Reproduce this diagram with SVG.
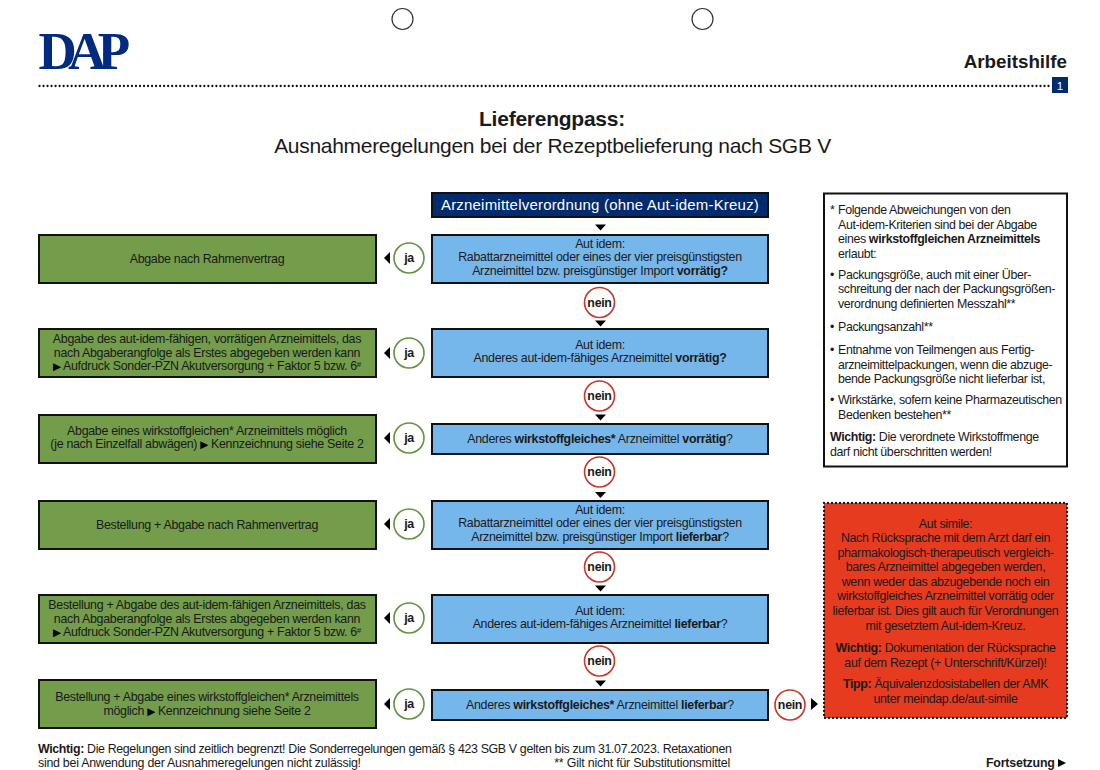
<svg xmlns="http://www.w3.org/2000/svg" width="1100" height="770" viewBox="0 0 1100 770">
<style>
text{font-family:"Liberation Sans",Arial,sans-serif;font-size:12.400px;fill:#1a1a1a;letter-spacing:-.29px}
.m{text-anchor:middle}
.b{font-weight:700}
.n{letter-spacing:-.37px}
.s{letter-spacing:-.33px}
.f{letter-spacing:-.35px}
.tri{font-family:"DejaVu Sans",sans-serif;font-size:10.500px;fill:#000;letter-spacing:-.6px;baseline-shift:.5px}
.box{stroke:#111;stroke-width:2}
.g{fill:#739c4b}
.bl{fill:#76b7eb}
.ja{fill:#fff;stroke:#5f9440;stroke-width:1.6}
.ne{fill:#fff;stroke:#c8372c;stroke-width:1.6}
.t{fill:#000}
.lab{font-weight:700;text-anchor:middle;font-size:12.400px;letter-spacing:-.3px}
</style>
<rect width="1100" height="770" fill="#fff"/>
<g id="punch"><circle cx="402.500" cy="19" r="10.500" fill="#fff" stroke="#333" stroke-width="1.200"/><circle cx="702.500" cy="19" r="10.500" fill="#fff" stroke="#333" stroke-width="1.200"/></g>
<g id="logo"><text x="38.500" y="68.500" style="font-family:'Liberation Serif',serif;font-weight:700;font-size:53px;letter-spacing:-8.700px;fill:#002b7f">DAP</text></g>
<text x="1067" y="68" text-anchor="end" style="font-size:18.800px;font-weight:700;letter-spacing:0">Arbeitshilfe</text>
<line x1="39.500" y1="86" x2="1052" y2="86" stroke="#111" stroke-width="2.300" stroke-linecap="round" stroke-dasharray="0 4.020"/>
<rect x="1052" y="77" width="16" height="16" fill="#002b6e"/><text x="1060" y="90" class="m" style="fill:#fff;font-size:11.500px;letter-spacing:0">1</text>
<text x="552" y="126" class="m b" style="font-size:21px;letter-spacing:-.25px">Lieferengpass:</text>
<text x="552.500" y="152.500" class="m" style="font-size:21px;letter-spacing:-.3px">Ausnahmeregelungen bei der Rezeptbelieferung nach SGB V</text>

<g id="connectors" class="t">
<path d="M595 224.500h11l-5.500 6z"/><path d="M595 320.500h11l-5.500 6z"/><path d="M595 414.500h11l-5.500 6z"/><path d="M595 492h11l-5.500 6z"/><path d="M595 585.500h11l-5.500 6z"/><path d="M595 680.500h11l-5.500 6z"/>
<path d="M390 252v12l-6-6z"/><path d="M390 347v12l-6-6z"/><path d="M390 432v12l-6-6z"/><path d="M390 518v12l-6-6z"/><path d="M390 612v12l-6-6z"/><path d="M390 698v12l-6-6z"/>
<path d="M811 698v12l7-6z"/>
</g>

<g id="start"><rect class="box" x="432" y="193" width="336" height="24" fill="#002b6e"/><text x="600" y="210" class="m" style="fill:#fff;font-size:15px;letter-spacing:.2px">Arzneimittelverordnung (ohne Aut-idem-Kreuz)</text></g>

<g id="q1"><rect class="box bl" x="432" y="235" width="336" height="48"/><text x="600" y="248" class="m">Aut idem:</text><text x="600" y="261" class="m">Rabattarzneimittel oder eines der vier preisgünstigsten</text><text x="600" y="275" class="m">Arzneimittel bzw. preisgünstiger Import <tspan class="b">vorrätig?</tspan></text></g>
<g id="q2"><rect class="box bl" x="432" y="329" width="336" height="48"/><text x="600" y="349" class="m">Aut idem:</text><text x="600" y="362" class="m">Anderes aut-idem-fähiges Arzneimittel <tspan class="b">vorrätig?</tspan></text></g>
<g id="q3"><rect class="box bl" x="432" y="424" width="336" height="30"/><text x="600" y="443" class="m">Anderes <tspan class="b">wirkstoffgleiches*</tspan> Arzneimittel <tspan class="b">vorrätig</tspan>?</text></g>
<g id="q4"><rect class="box bl" x="432" y="501" width="336" height="48"/><text x="600" y="514" class="m">Aut idem:</text><text x="600" y="527" class="m">Rabattarzneimittel oder eines der vier preisgünstigsten</text><text x="600" y="541" class="m">Arzneimittel bzw. preisgünstiger Import <tspan class="b">lieferbar</tspan>?</text></g>
<g id="q5"><rect class="box bl" x="432" y="595" width="336" height="48"/><text x="600" y="615" class="m">Aut idem:</text><text x="600" y="628" class="m">Anderes aut-idem-fähiges Arzneimittel <tspan class="b">lieferbar</tspan>?</text></g>
<g id="q6"><rect class="box bl" x="432" y="690" width="336" height="30"/><text x="600" y="709" class="m">Anderes <tspan class="b">wirkstoffgleiches*</tspan> Arzneimittel <tspan class="b">lieferbar</tspan>?</text></g>

<g id="a1"><rect class="box g" x="39" y="235" width="337" height="48"/><text x="207" y="263" class="m">Abgabe nach Rahmenvertrag</text></g>
<g id="a2"><rect class="box g" x="39" y="329" width="337" height="48"/><text x="207" y="343" class="m">Abgabe des aut-idem-fähigen, vorrätigen Arzneimittels, das</text><text x="207" y="357" class="m">nach Abgaberangfolge als Erstes abgegeben werden kann</text><text x="207" y="370" class="m"><tspan class="tri">▶</tspan> Aufdruck Sonder-PZN Akutversorgung + Faktor 5 bzw. 6<tspan font-size="8" dy="-3">#</tspan></text></g>
<g id="a3"><rect class="box g" x="39" y="415" width="337" height="48"/><text x="207" y="435" class="m">Abgabe eines wirkstoffgleichen* Arzneimittels möglich</text><text x="207" y="448" class="m">(je nach Einzelfall abwägen) <tspan class="tri">▶</tspan> Kennzeichnung siehe Seite 2</text></g>
<g id="a4"><rect class="box g" x="39" y="501" width="337" height="48"/><text x="207" y="529" class="m">Bestellung + Abgabe nach Rahmenvertrag</text></g>
<g id="a5"><rect class="box g" x="39" y="595" width="337" height="48"/><text x="207" y="609" class="m">Bestellung + Abgabe des aut-idem-fähigen Arzneimittels, das</text><text x="207" y="623" class="m">nach Abgaberangfolge als Erstes abgegeben werden kann</text><text x="207" y="636" class="m"><tspan class="tri">▶</tspan> Aufdruck Sonder-PZN Akutversorgung + Faktor 5 bzw. 6<tspan font-size="8" dy="-3">#</tspan></text></g>
<g id="a6"><rect class="box g" x="39" y="680" width="337" height="48"/><text x="207" y="701" class="m">Bestellung + Abgabe eines wirkstoffgleichen* Arzneimittels</text><text x="207" y="715" class="m">möglich <tspan class="tri">▶</tspan> Kennzeichnung siehe Seite 2</text></g>

<g id="ja1"><circle class="ja" cx="409" cy="258" r="15"/><text x="409" y="262" class="lab">ja</text></g>
<g id="ja2"><circle class="ja" cx="409" cy="353" r="15"/><text x="409" y="357" class="lab">ja</text></g>
<g id="ja3"><circle class="ja" cx="409" cy="438" r="15"/><text x="409" y="442" class="lab">ja</text></g>
<g id="ja4"><circle class="ja" cx="409" cy="524" r="15"/><text x="409" y="528" class="lab">ja</text></g>
<g id="ja5"><circle class="ja" cx="409" cy="618" r="15"/><text x="409" y="622" class="lab">ja</text></g>
<g id="ja6"><circle class="ja" cx="409" cy="704" r="15"/><text x="409" y="708" class="lab">ja</text></g>
<g id="nein1"><circle class="ne" cx="599.500" cy="302.500" r="15"/><text x="599.500" y="307" class="lab">nein</text></g>
<g id="nein2"><circle class="ne" cx="599.500" cy="396" r="15"/><text x="599.500" y="400" class="lab">nein</text></g>
<g id="nein3"><circle class="ne" cx="599.500" cy="472" r="15"/><text x="599.500" y="476" class="lab">nein</text></g>
<g id="nein4"><circle class="ne" cx="599.500" cy="567" r="15"/><text x="599.500" y="571" class="lab">nein</text></g>
<g id="nein5"><circle class="ne" cx="599.500" cy="661" r="15"/><text x="599.500" y="665" class="lab">nein</text></g>
<g id="nein6"><circle class="ne" cx="790" cy="705" r="15"/><text x="790" y="709" class="lab">nein</text></g>

<g id="note"><rect class="box" x="824" y="193.500" width="243" height="273" fill="#fff"/>
<text x="830" y="214" class="n">*</text><text x="838" y="214" class="n">Folgende Abweichungen von den</text>
<text x="838" y="229" class="n">Aut-idem-Kriterien sind bei der Abgabe</text>
<text x="838" y="243" class="n"><tspan>eines </tspan><tspan class="b">wirkstoffgleichen Arzneimittels</tspan></text>
<text x="838" y="258" class="n">erlaubt:</text>
<text x="830" y="279" class="n">•</text><text x="838" y="279" class="n">Packungsgröße, auch mit einer Über-</text>
<text x="838" y="293" class="n">schreitung der nach der Packungsgrößen-</text>
<text x="838" y="308" class="n">verordnung definierten Messzahl**</text>
<text x="830" y="331" class="n">•</text><text x="838" y="331" class="n">Packungsanzahl**</text>
<text x="830" y="354" class="n">•</text><text x="838" y="354" class="n">Entnahme von Teilmengen aus Fertig-</text>
<text x="838" y="369" class="n">arzneimittelpackungen, wenn die abzuge-</text>
<text x="838" y="383" class="n">bende Packungsgröße nicht lieferbar ist,</text>
<text x="830" y="404" class="n">•</text><text x="838" y="404" class="n">Wirkstärke, sofern keine Pharmazeutischen</text>
<text x="838" y="419" class="n">Bedenken bestehen**</text>
<text x="830" y="441" class="n"><tspan class="b">Wichtig:</tspan> Die verordnete Wirkstoffmenge</text>
<text x="830" y="456" class="n">darf nicht überschritten werden!</text></g>

<g id="simile"><rect x="824" y="503" width="243" height="215" fill="#e63b1f"/><rect x="824" y="503" width="243" height="215" fill="none" stroke="#111" stroke-width="2.300" stroke-linecap="round" stroke-dasharray="0 4"/>
<text x="945.500" y="528" class="m s">Aut simile:</text>
<text x="945.500" y="542" class="m s">Nach Rücksprache mit dem Arzt darf ein</text>
<text x="945.500" y="557" class="m s">pharmakologisch-therapeutisch vergleich-</text>
<text x="945.500" y="571" class="m s">bares Arzneimittel abgegeben werden,</text>
<text x="945.500" y="586" class="m s">wenn weder das abzugebende noch ein</text>
<text x="945.500" y="600" class="m s">wirkstoffgleiches Arzneimittel vorrätig oder</text>
<text x="945.500" y="615" class="m s">lieferbar ist. Dies gilt auch für Verordnungen</text>
<text x="945.500" y="630" class="m s">mit gesetztem Aut-idem-Kreuz.</text>
<text x="945.500" y="652" class="m s"><tspan class="b">Wichtig:</tspan> Dokumentation der Rücksprache</text>
<text x="945.500" y="667" class="m s">auf dem Rezept (+ Unterschrift/Kürzel)!</text>
<text x="945.500" y="688" class="m s"><tspan class="b">Tipp:</tspan> Äquivalenzdosistabellen der AMK</text>
<text x="945.500" y="703" class="m s">unter meindap.de/aut-simile</text></g>

<g id="footer">
<text x="38" y="753" class="f"><tspan class="b">Wichtig:</tspan> Die Regelungen sind zeitlich begrenzt! Die Sonderregelungen gemäß § 423 SGB V gelten bis zum 31.07.2023. Retaxationen</text>
<text x="38" y="767" style="letter-spacing:-.26px">sind bei Anwendung der Ausnahmeregelungen nicht zulässig!</text>
<text x="730" y="767" text-anchor="end" style="letter-spacing:-.2px">** Gilt nicht für Substitutionsmittel</text>
<text x="986" y="767" class="b" style="letter-spacing:-.2px">Fortsetzung</text><path d="M1058 759v8l8-4z" fill="#000"/>
</g>
</svg>
